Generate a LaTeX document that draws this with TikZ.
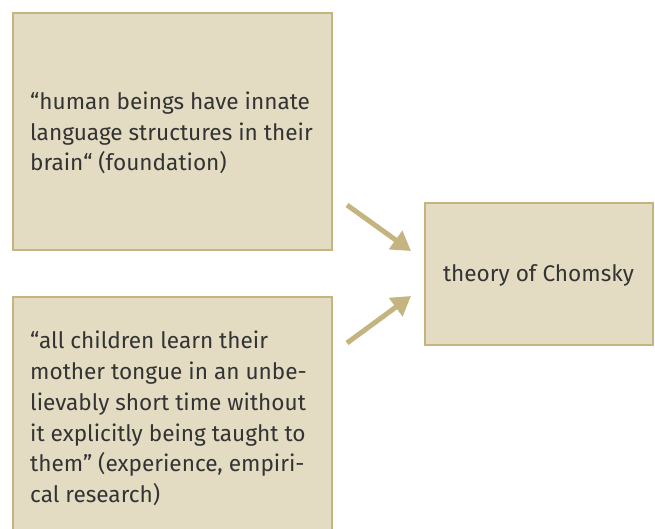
\documentclass[tikz,border=0pt]{standalone}
\usepackage{fontspec}
\setmainfont{Fira Sans}
\usetikzlibrary{arrows.meta}
\definecolor{boxfill}{HTML}{E3DCC3}
\definecolor{boxline}{HTML}{C4B47F}
\definecolor{txt}{HTML}{333333}
\begin{document}
\begin{tikzpicture}[x=1pt,y=-1pt,
  card/.style={draw=boxline,fill=boxfill,line width=2.2pt},
  cardtext/.style={anchor=west,align=left,text=txt,font=\fontsize{22.6}{30.8}\selectfont,inner sep=0pt},
  link/.style={draw=boxline,line width=5pt,-{Triangle[length=19pt,width=22pt]}}]
  \useasboundingbox (0,0) rectangle (655,528);
  \begin{scope}
    \clip (0,0) rectangle (655,528);
    % premise boxes and conclusion box
    \draw[card] (13,13) rectangle (332,250);
    \draw[card] (13,297) rectangle (332,545);
    \draw[card] (425,203) rectangle (653,345);
  \end{scope}
  \node[cardtext] (p1) at (30,133) {“human beings have innate\\language structures in their\\brain“ (foundation)};
  \node[cardtext] (p2) at (30,418.5) {“all children learn their\\mother tongue in an unbe-\\lievably short time without\\it explicitly being taught to\\them” (experience, empiri-\\cal research)};
  \node[text=txt,font=\fontsize{22.6}{30.8}\selectfont,inner sep=0pt] (c) at (538.5,275) {theory of Chomsky};
  % inference arrows
  \coordinate (a1s) at (347,205);
  \coordinate (a1e) at (411,251);
  \coordinate (a2s) at (347,343);
  \coordinate (a2e) at (411,296);
  \draw[link] (a1s) -- (a1e);
  \draw[link] (a2s) -- (a2e);
\end{tikzpicture}
\end{document}
